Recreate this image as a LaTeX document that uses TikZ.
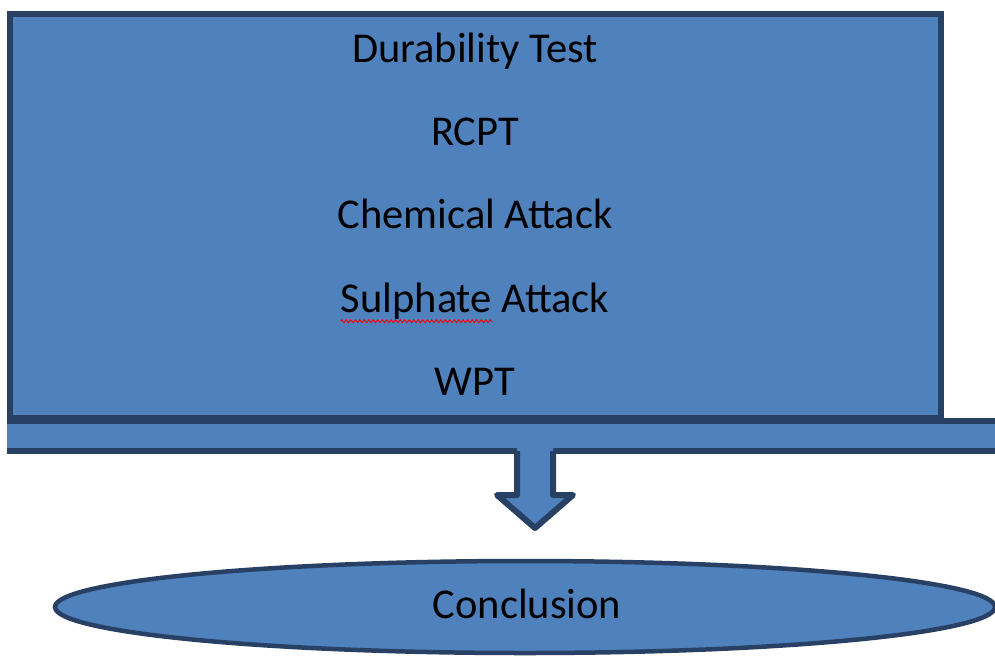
\documentclass[tikz,border=0pt]{standalone}
\usepackage{fontspec}
\setmainfont{Carlito}
\usepackage{xcolor}
\usetikzlibrary{positioning,shapes.geometric,decorations.pathmorphing}
\definecolor{boxblue}{RGB}{79,129,189}
\definecolor{boxline}{RGB}{40,64,100}

\begin{document}
\begin{tikzpicture}[x=1pt, y=-1pt, node distance = 47pt]
    \tikzstyle{panel} = [draw=boxline, fill=boxblue, line width=6pt, inner sep=0pt]
    \tikzstyle{item} = [font=\fontsize{42.5}{50}\selectfont, inner sep=0pt, text height=28pt, text depth=8pt]
    \tikzstyle{squiggle} = [red, line width=0.9pt, decorate, decoration={zigzag, amplitude=1.4pt, segment length=4.5pt}]
    \useasboundingbox (0,0) rectangle (995,659);

    \begin{scope}
        \clip (7,0) rectangle (1000,659);
        \node [panel, anchor=north west, minimum width=1010pt, minimum height=30pt] (bar) at (0,418) {};
    \end{scope}
    \node [panel, minimum width=931pt, minimum height=404pt] (box) at (475.5,216) {};

    \node [item] (T0) at (475,52) {Durability Test};
    \node [item, below = of T0] (T1) {RCPT};
    \node [item, below = of T1] (T2) {Chemical Attack};
    \node [item, below = of T2] (T3) {Sulphate Attack};
    \node [item, below = of T3] (T4) {WPT};
    \draw [squiggle] ([yshift=-9pt]T3.base west) -- ++(152,0);

    % block arrow
    \coordinate (tip) at (535,528);
    \fill [boxblue] (517,443) -- (517,495) -- (497,495) -- (tip) -- (573,495) -- (553,495) -- (553,443) -- cycle;
    \draw [boxline, line width=6pt, line join=round] (517,451) -- (517,495) -- (497,495) -- (tip) -- (573,495) -- (553,495) -- (553,451);

    \node [ellipse, draw=boxline, fill=boxblue, line width=4.5pt, minimum width=940pt, minimum height=92pt] (end) at (525,607) {};
    \node [item] (endtext) at (527,608) {Conclusion};
\end{tikzpicture}
\end{document}
